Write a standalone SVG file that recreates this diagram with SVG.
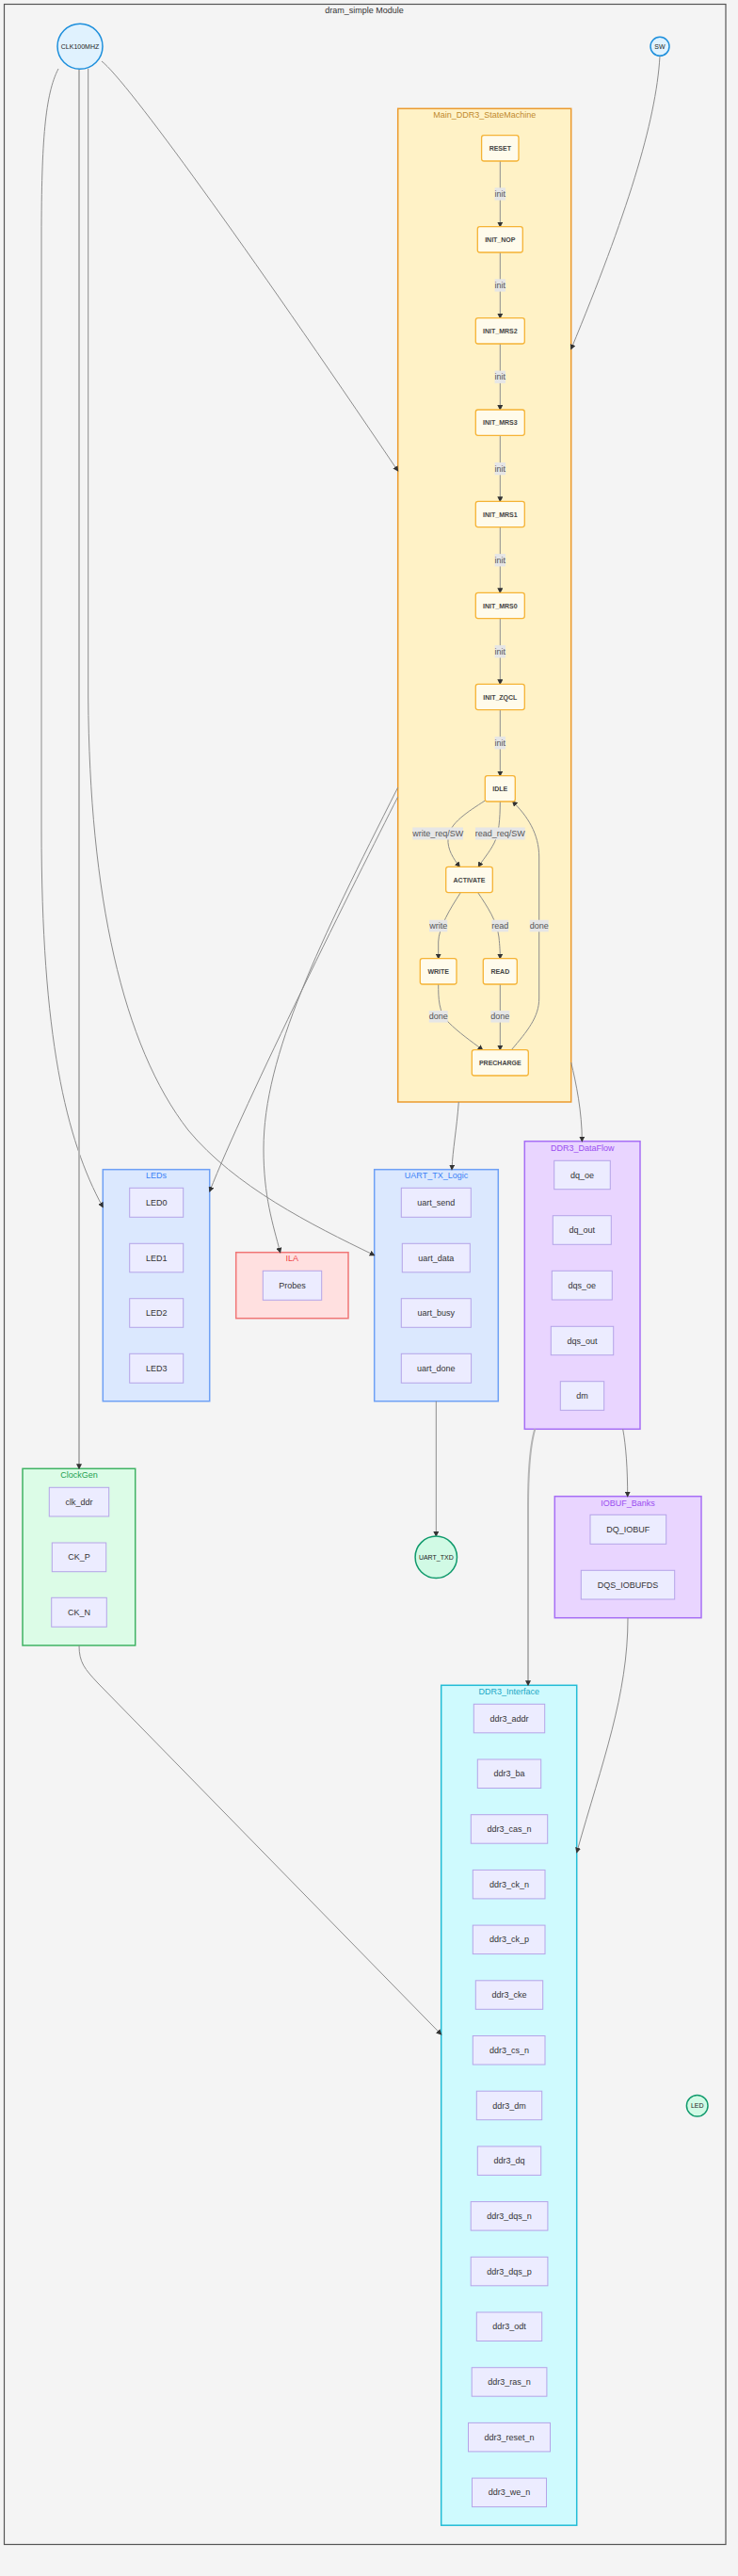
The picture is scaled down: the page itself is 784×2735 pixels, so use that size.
<svg xmlns="http://www.w3.org/2000/svg" width="784" height="2735" viewBox="0 0 784 2735">
<defs>
<marker id="arr" markerWidth="6" markerHeight="6" refX="5" refY="3" orient="auto" markerUnits="userSpaceOnUse">
<path d="M0,0 L6,3 L0,6 z" fill="#333"/>
</marker>
<style>
text{font-family:"Liberation Sans",Arial,sans-serif;}
.mod{fill:#f4f4f4;stroke:#555;stroke-width:1.2;}
.mtitle{font-size:9px;fill:#333;text-anchor:middle;}
.ctitle{font-size:9px;text-anchor:middle;}
.sm{fill:#fff2c6;stroke:#eb9a2e;stroke-width:1.5;}
.st{fill:#fffbeb;stroke:#f5b335;stroke-width:1.3;}
.stt{font-size:7px;font-weight:bold;fill:#444;text-anchor:middle;dominant-baseline:central;}
.blue{fill:#dbe8fe;stroke:#6ea0f5;stroke-width:1.5;}
.red{fill:#ffe0e0;stroke:#f07575;stroke-width:1.5;}
.purple{fill:#e9d5ff;stroke:#a66ef5;stroke-width:1.5;}
.green{fill:#dcfce7;stroke:#3fb263;stroke-width:1.5;}
.cyan{fill:#cffafe;stroke:#22bcd6;stroke-width:1.5;}
.it{fill:#ececff;stroke:#b5a4e8;stroke-width:1;}
.itt{font-size:9px;fill:#333;text-anchor:middle;dominant-baseline:central;}
.cin{fill:#e0f2fe;stroke:#1d8fdc;stroke-width:1.5;}
.cout{fill:#d1fae5;stroke:#109a6c;stroke-width:1.5;}
.ct{font-size:7px;fill:#222;text-anchor:middle;dominant-baseline:central;}
.e{fill:none;stroke:#8c8c8c;stroke-width:1;marker-end:url(#arr);}
.ethick{fill:none;stroke:#b4b4b4;stroke-width:2;marker-end:url(#arr);}
.lb{fill:#e6e6e6;}
.lt{font-size:9px;fill:#555;text-anchor:middle;dominant-baseline:central;}
</style>
</defs>
<rect x="0" y="0" width="784" height="2735" fill="#f4f4f4"/>
<g id="module">
<rect class="mod" x="4.5" y="4.5" width="766.5" height="2697"/>
<text class="mtitle" x="387" y="14">dram_simple Module</text>
</g>

<g id="clusters">
<g id="Main_DDR3_StateMachine">
<rect class="sm" x="422.7" y="115.3" width="184" height="1054.7"/>
<text class="ctitle" x="514.7" y="125" fill="#bf8a2e">Main_DDR3_StateMachine</text>
</g>
<g id="LEDs">
<rect class="blue" x="109.3" y="1241.7" width="113.4" height="246"/>
<text class="ctitle" x="166" y="1251" fill="#3b82f6">LEDs</text>
</g>
<g id="UART_TX_Logic">
<rect class="blue" x="397.7" y="1241.7" width="131.6" height="246"/>
<text class="ctitle" x="463.5" y="1251" fill="#3b82f6">UART_TX_Logic</text>
</g>
<g id="ILA">
<rect class="red" x="250.7" y="1329.7" width="119.3" height="70"/>
<text class="ctitle" x="310.3" y="1339" fill="#ef4444">ILA</text>
</g>
<g id="DDR3_DataFlow">
<rect class="purple" x="557.3" y="1211.7" width="122.7" height="305.6"/>
<text class="ctitle" x="618.7" y="1222" fill="#9a4ef0">DDR3_DataFlow</text>
</g>
<g id="IOBUF_Banks">
<rect class="purple" x="589.3" y="1588.7" width="155.7" height="129"/>
<text class="ctitle" x="667" y="1598.5" fill="#9a4ef0">IOBUF_Banks</text>
</g>
<g id="ClockGen">
<rect class="green" x="24" y="1559.3" width="119.7" height="187.7"/>
<text class="ctitle" x="84" y="1569" fill="#22a050">ClockGen</text>
</g>
<g id="DDR3_Interface">
<rect class="cyan" x="468.7" y="1789.3" width="144" height="891.9"/>
<text class="ctitle" x="540.7" y="1799" fill="#1aa6c4">DDR3_Interface</text>
</g>
</g>

<g id="connectors">
<path class="e" d="M108,65 C135,86 262,262 422.7,500"/>
<path class="e" d="M62,73 C48,100 44,150 44,250 L44,880 C44,1100 70,1210 109.3,1281.7"/>
<path class="ethick" d="M84,73.5 L84,1559.3"/>
<path class="e" d="M93.7,73 L93.7,740 C95,950 130,1110 200,1200 C250,1260 330,1300 397.7,1332.7"/>
<path class="e" d="M701,59.5 C697,130 665,230 606.7,370.7"/>
<path class="e" d="M422.7,846 C380,930 260,1170 222.7,1265"/>
<path class="e" d="M422.7,836 C340,1000 280,1120 280,1220 C280,1270 290,1300 297.7,1329.7"/>
<path class="e" d="M487.3,1170 C485,1200 481,1220 480,1241.7"/>
<path class="e" d="M606.7,1128 C612,1150 618.3,1180 618.3,1211.7"/>
<path class="e" d="M463.3,1487.7 L463.3,1631"/>
<path class="e" d="M661.7,1517.3 C665,1535 666.7,1560 666.7,1588.7"/>
<path class="ethick" d="M568.3,1517.3 C563,1535 561,1560 561,1600 L561,1789.3"/>
<path class="e" d="M667,1717.7 C667,1800 640,1870 612.7,1966.7"/>
<path class="e" d="M84,1747 C84,1765 90,1772 104,1787 L468.7,2160"/>

<path class="e" d="M531.3,171 L531.3,240.7"/>
<path class="e" d="M531.3,268 L531.3,337.7"/>
<path class="e" d="M531.3,365 L531.3,435"/>
<path class="e" d="M531.3,462.3 L531.3,532.3"/>
<path class="e" d="M531.3,559.6 L531.3,629.3"/>
<path class="e" d="M531.3,656.6 L531.3,726.3"/>
<path class="e" d="M531.3,753.6 L531.3,823.7"/>
<path class="e" d="M515.3,850 C497,862 477,874 476,890 C475,902 482,912 488.3,920.3"/>
<path class="e" d="M531.3,851 C531.3,870 530,885 525,895 C520,905 512,914 508.3,920.3"/>
<path class="e" d="M489.3,947.7 C478,965 466,985 465.7,1000 L465.7,1017.7"/>
<path class="e" d="M507.7,947.7 C518,963 528,978 530,995 C531,1005 531.3,1010 531.3,1017.7"/>
<path class="e" d="M465.7,1045 C465.7,1060 466,1075 476,1085 C488,1097 500,1105 512.7,1114.7"/>
<path class="e" d="M531.3,1045 L531.3,1114.7"/>
<path class="e" d="M543.3,1114.7 C560,1095 572.7,1080 572.7,1060 L572.7,910 C572.7,885 560,866 544.5,851"/>
</g>

<g id="edge-labels">
<rect class="lb" x="525.6" y="199.3" width="11.4" height="13.3"/><text class="lt" x="531.3" y="206">init</text>
<rect class="lb" x="525.6" y="296.3" width="11.4" height="13.3"/><text class="lt" x="531.3" y="303">init</text>
<rect class="lb" x="525.6" y="393.6" width="11.4" height="13.3"/><text class="lt" x="531.3" y="400.3">init</text>
<rect class="lb" x="525.6" y="491" width="11.4" height="13.3"/><text class="lt" x="531.3" y="497.7">init</text>
<rect class="lb" x="525.6" y="588.1" width="11.4" height="13.3"/><text class="lt" x="531.3" y="594.8">init</text>
<rect class="lb" x="525.6" y="685.1" width="11.4" height="13.3"/><text class="lt" x="531.3" y="691.8">init</text>
<rect class="lb" x="525.6" y="782.1" width="11.4" height="13.3"/><text class="lt" x="531.3" y="788.8">init</text>
<rect class="lb" x="438.3" y="878.5" width="53.7" height="13"/><text class="lt" x="465.2" y="885">write_req/SW</text>
<rect class="lb" x="505" y="878.5" width="52.7" height="13"/><text class="lt" x="531.3" y="885">read_req/SW</text>
<rect class="lb" x="456" y="976.7" width="19.3" height="12.6"/><text class="lt" x="465.7" y="983">write</text>
<rect class="lb" x="522.4" y="976.7" width="17.7" height="12.6"/><text class="lt" x="531.3" y="983">read</text>
<rect class="lb" x="562.7" y="976.7" width="20" height="12.6"/><text class="lt" x="572.7" y="983">done</text>
<rect class="lb" x="455.7" y="1073" width="20" height="12.6"/><text class="lt" x="465.7" y="1079.3">done</text>
<rect class="lb" x="521.3" y="1073" width="20" height="12.6"/><text class="lt" x="531.3" y="1079.3">done</text>
</g>

<g id="states">
<g id="RESET"><rect class="st" x="511.6" y="143.7" width="39.4" height="27.3" rx="2.5"/><text class="stt" x="531.3" y="157.4">RESET</text></g>
<g id="INIT_NOP"><rect class="st" x="507.3" y="240.7" width="48" height="27.3" rx="2.5"/><text class="stt" x="531.3" y="254.4">INIT_NOP</text></g>
<g id="INIT_MRS2"><rect class="st" x="505.3" y="337.7" width="52" height="27.3" rx="2.5"/><text class="stt" x="531.3" y="351.4">INIT_MRS2</text></g>
<g id="INIT_MRS3"><rect class="st" x="505.3" y="435" width="52" height="27.3" rx="2.5"/><text class="stt" x="531.3" y="448.7">INIT_MRS3</text></g>
<g id="INIT_MRS1"><rect class="st" x="505.3" y="532.3" width="52" height="27.3" rx="2.5"/><text class="stt" x="531.3" y="546">INIT_MRS1</text></g>
<g id="INIT_MRS0"><rect class="st" x="505.3" y="629.3" width="52" height="27.3" rx="2.5"/><text class="stt" x="531.3" y="643">INIT_MRS0</text></g>
<g id="INIT_ZQCL"><rect class="st" x="505.3" y="726.3" width="52" height="27.3" rx="2.5"/><text class="stt" x="531.3" y="740">INIT_ZQCL</text></g>
<g id="IDLE"><rect class="st" x="515.3" y="823.7" width="32" height="27.3" rx="2.5"/><text class="stt" x="531.3" y="837.4">IDLE</text></g>
<g id="ACTIVATE"><rect class="st" x="473.7" y="920.3" width="49.6" height="27.3" rx="2.5"/><text class="stt" x="498.5" y="934">ACTIVATE</text></g>
<g id="WRITE"><rect class="st" x="446.3" y="1017.7" width="38.7" height="27.3" rx="2.5"/><text class="stt" x="465.7" y="1031.4">WRITE</text></g>
<g id="READ"><rect class="st" x="513.3" y="1017.7" width="36" height="27.3" rx="2.5"/><text class="stt" x="531.3" y="1031.4">READ</text></g>
<g id="PRECHARGE"><rect class="st" x="501.3" y="1114.7" width="60" height="27.3" rx="2.5"/><text class="stt" x="531.3" y="1128.4">PRECHARGE</text></g>
</g>

<g id="ports">
<g id="CLK100MHZ"><circle class="cin" cx="85" cy="49.3" r="24"/><text class="ct" x="85" y="49.3">CLK100MHZ</text></g>
<g id="SW"><circle class="cin" cx="701" cy="49.3" r="10"/><text class="ct" x="701" y="49.3">SW</text></g>
<g id="UART_TXD"><circle class="cout" cx="463.3" cy="1653.3" r="22.2"/><text class="ct" x="463.3" y="1653.3">UART_TXD</text></g>
<g id="LED"><circle class="cout" cx="740.7" cy="2235.7" r="11.3"/><text class="ct" x="740.7" y="2235.7">LED</text></g>
</g>

<g id="items">
<g id="LED0"><rect class="it" x="137.7" y="1261.3" width="57" height="31"/><text class="itt" x="166.2" y="1276.8">LED0</text></g>
<g id="LED1"><rect class="it" x="137.7" y="1320.3" width="57" height="30.5"/><text class="itt" x="166.2" y="1335.5">LED1</text></g>
<g id="LED2"><rect class="it" x="137.7" y="1378.7" width="57" height="30.6"/><text class="itt" x="166.2" y="1394">LED2</text></g>
<g id="LED3"><rect class="it" x="137.7" y="1437.3" width="57" height="31"/><text class="itt" x="166.2" y="1452.8">LED3</text></g>

<g id="uart_send"><rect class="it" x="426.3" y="1261.3" width="74" height="31"/><text class="itt" x="463.3" y="1276.8">uart_send</text></g>
<g id="uart_data"><rect class="it" x="427.3" y="1320.3" width="72" height="30.5"/><text class="itt" x="463.3" y="1335.5">uart_data</text></g>
<g id="uart_busy"><rect class="it" x="426.3" y="1378.7" width="74" height="30.6"/><text class="itt" x="463.3" y="1394">uart_busy</text></g>
<g id="uart_done"><rect class="it" x="426.3" y="1437.3" width="74.3" height="31"/><text class="itt" x="463.3" y="1452.8">uart_done</text></g>

<g id="Probes"><rect class="it" x="279.3" y="1349.3" width="62.4" height="31"/><text class="itt" x="310.5" y="1364.8">Probes</text></g>

<g id="dq_oe"><rect class="it" x="588.7" y="1232.3" width="59.6" height="30.4"/><text class="itt" x="618.5" y="1247.5">dq_oe</text></g>
<g id="dq_out"><rect class="it" x="587.3" y="1290.7" width="62" height="30.6"/><text class="itt" x="618.3" y="1306">dq_out</text></g>
<g id="dqs_oe"><rect class="it" x="586.3" y="1349.3" width="64" height="30.7"/><text class="itt" x="618.3" y="1364.7">dqs_oe</text></g>
<g id="dqs_out"><rect class="it" x="585.3" y="1408.3" width="66.4" height="30.4"/><text class="itt" x="618.5" y="1423.5">dqs_out</text></g>
<g id="dm"><rect class="it" x="595.3" y="1466.7" width="46.4" height="30.6"/><text class="itt" x="618.5" y="1482">dm</text></g>

<g id="DQ_IOBUF"><rect class="it" x="627" y="1608.3" width="80.7" height="31"/><text class="itt" x="667.3" y="1623.8">DQ_IOBUF</text></g>
<g id="DQS_IOBUFDS"><rect class="it" x="617.3" y="1667.3" width="99.4" height="30.7"/><text class="itt" x="667" y="1682.7">DQS_IOBUFDS</text></g>

<g id="clk_ddr"><rect class="it" x="52.3" y="1579.3" width="63.4" height="30.7"/><text class="itt" x="84" y="1594.7">clk_ddr</text></g>
<g id="CK_P"><rect class="it" x="55.3" y="1638" width="57.4" height="30.7"/><text class="itt" x="84" y="1653.4">CK_P</text></g>
<g id="CK_N"><rect class="it" x="54.7" y="1696.3" width="58.6" height="31"/><text class="itt" x="84" y="1711.8">CK_N</text></g>

<g id="ddr3_addr"><rect class="it" x="503.3" y="1809.3" width="75.4" height="30.5"/><text class="itt" x="541" y="1824.6">ddr3_addr</text></g>
<g id="ddr3_ba"><rect class="it" x="507.3" y="1868" width="67.4" height="30.5"/><text class="itt" x="541" y="1883.3">ddr3_ba</text></g>
<g id="ddr3_cas_n"><rect class="it" x="500.3" y="1926.7" width="81.4" height="30.5"/><text class="itt" x="541" y="1942">ddr3_cas_n</text></g>
<g id="ddr3_ck_n"><rect class="it" x="502.3" y="1985.4" width="76.7" height="30.5"/><text class="itt" x="541" y="2000.7">ddr3_ck_n</text></g>
<g id="ddr3_ck_p"><rect class="it" x="502.3" y="2044.1" width="76.7" height="30.5"/><text class="itt" x="541" y="2059.4">ddr3_ck_p</text></g>
<g id="ddr3_cke"><rect class="it" x="505.3" y="2102.8" width="71.4" height="30.5"/><text class="itt" x="541" y="2118.1">ddr3_cke</text></g>
<g id="ddr3_cs_n"><rect class="it" x="502.3" y="2161.5" width="76.7" height="30.5"/><text class="itt" x="541" y="2176.8">ddr3_cs_n</text></g>
<g id="ddr3_dm"><rect class="it" x="506.3" y="2220.2" width="69.4" height="30.5"/><text class="itt" x="541" y="2235.5">ddr3_dm</text></g>
<g id="ddr3_dq"><rect class="it" x="507.3" y="2278.9" width="67.4" height="30.5"/><text class="itt" x="541" y="2294.2">ddr3_dq</text></g>
<g id="ddr3_dqs_n"><rect class="it" x="500.2" y="2337.6" width="81.7" height="30.5"/><text class="itt" x="541" y="2352.9">ddr3_dqs_n</text></g>
<g id="ddr3_dqs_p"><rect class="it" x="500.2" y="2396.3" width="81.7" height="30.5"/><text class="itt" x="541" y="2411.6">ddr3_dqs_p</text></g>
<g id="ddr3_odt"><rect class="it" x="506.3" y="2455" width="69.4" height="30.5"/><text class="itt" x="541" y="2470.3">ddr3_odt</text></g>
<g id="ddr3_ras_n"><rect class="it" x="501.2" y="2513.7" width="79.7" height="30.5"/><text class="itt" x="541" y="2529">ddr3_ras_n</text></g>
<g id="ddr3_reset_n"><rect class="it" x="497.5" y="2572.4" width="87" height="30.5"/><text class="itt" x="541" y="2587.7">ddr3_reset_n</text></g>
<g id="ddr3_we_n"><rect class="it" x="501.5" y="2631.1" width="79" height="30.5"/><text class="itt" x="541" y="2646.4">ddr3_we_n</text></g>
</g>
</svg>
